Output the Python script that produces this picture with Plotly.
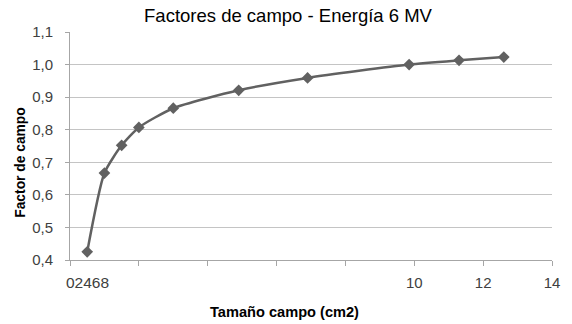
import plotly.graph_objects as go

field_size = [0.5, 1, 1.5, 2, 3, 4.9, 6.9, 9.85, 11.3, 12.6]
field_factor = [0.425, 0.667, 0.752, 0.807, 0.866, 0.921, 0.959, 1.000, 1.013, 1.023]

x_tick_vals = [0, 2, 4, 6, 8, 10, 12, 14]
x_tick_text = ["", "", "", "", "", "10", "12", "14"]
bunched_label = "02468"
y_tick_vals = [0.4, 0.5, 0.6, 0.7, 0.8, 0.9, 1.0, 1.1]

title = "Factores de campo - Energía 6 MV"
x_title = "Tamaño campo (cm2)"
y_title = "Factor de campo"

FONT = "Liberation Sans, Arial, sans-serif"
LINE = "#616161"
L, R, T, B = 70, 559, 32, 260


def f(size, color="#404040"):
    return dict(family=FONT, size=size, color=color)


fig = go.Figure()
fig.add_trace(go.Scatter(
    x=field_size, y=field_factor, mode="lines+markers",
    line=dict(color=LINE, width=2.5, shape="spline", smoothing=0.6),
    marker=dict(symbol="diamond", size=9, color=LINE),
    showlegend=False,
))

fig.add_annotation(
    x=0, y=0, xref="x", yref="paper", text=bunched_label,
    showarrow=False, xanchor="left", yanchor="top", xshift=-6, yshift=-12,
    font=f(15.5),
)
fig.add_annotation(
    xref="paper", yref="paper",
    x=(288 - L) / (R - L), y=(B - 312) / (B - T),
    text="<b>" + x_title + "</b>", showarrow=False,
    xanchor="center", yanchor="middle", font=f(14.6, "#000000"),
)
fig.add_annotation(
    xref="paper", yref="paper",
    x=(19 - L) / (R - L), y=(B - 163) / (B - T),
    text="<b>" + y_title + "</b>", textangle=-90, showarrow=False,
    xanchor="center", yanchor="middle", font=f(13.8, "#000000"),
)

fig.update_layout(
    width=572, height=324,
    margin=dict(l=L, r=572 - R, t=T, b=324 - B),
    paper_bgcolor="white", plot_bgcolor="white",
    separators=",.",
    title=dict(text=title, x=288 / 572, xanchor="center", y=1 - 16 / 324, yanchor="middle",
               font=f(18.5, "#000000")),
    font=f(15),
    xaxis=dict(
        range=[0, 14], tickvals=x_tick_vals, ticktext=x_tick_text,
        showgrid=False, zeroline=False, showline=True, linecolor="#a6a6a6", linewidth=1,
        ticks="outside", ticklen=5, tickcolor="#a6a6a6", ticklabelstandoff=4,
        tickfont=f(15),
    ),
    yaxis=dict(
        range=[0.4, 1.1], tickvals=y_tick_vals, tickformat=".1f",
        showgrid=True, gridcolor="#c4c4c4", gridwidth=1, zeroline=False,
        showline=True, linecolor="#a6a6a6", linewidth=1,
        ticks="outside", ticklen=4, tickcolor="#a6a6a6", ticklabelstandoff=9,
        tickfont=f(15),
    ),
)

fig.write_html("out.html")
